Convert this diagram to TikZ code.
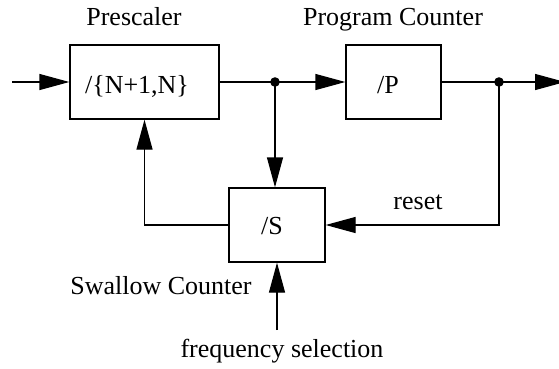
\documentclass[tikz,border=0pt]{standalone}
\usepackage{fontspec}
\setmainfont{Liberation Serif}
\usetikzlibrary{arrows.meta}
\begin{document}
\begin{tikzpicture}[x=1pt,y=-1pt,
  font=\fontsize{26}{30}\selectfont,
  wire/.style={line width=1.3pt},
  arr/.style={wire,-{Triangle[length=30pt,width=16pt]}},
  blockbox/.style={draw,line width=1.3pt,inner sep=0pt},
  lbl/.style={anchor=base,inner sep=0pt}]
\useasboundingbox (0,0) rectangle (559,368);

% divider blocks
\node[blockbox,minimum width=149pt,minimum height=74pt] (pre) at (144.5,82) {};
\node[blockbox,minimum width=95pt,minimum height=74pt] (pc) at (393.5,82) {};
\node[blockbox,minimum width=96pt,minimum height=74pt] (sw) at (277,225) {};

% block contents
\node[lbl] (pretxt) at (137,93) {/\{N+1,N\}};
\node[lbl] (pctxt) at (388,93) {/P};
\node[lbl] (swtxt) at (272,234) {/S};

% captions
\node[lbl] (precap) at (134,25) {Prescaler};
\node[lbl] (pccap) at (393,25) {Program Counter};
\node[lbl] (swcap) at (161,294) {Swallow Counter};
\node[lbl] (fscap) at (282,357) {frequency selection};
\node[lbl] (rstcap) at (418,209) {reset};

% wire ends and branch points
\coordinate (in) at (12,82);
\coordinate (out) at (565,82);
\coordinate (j1) at (275,82);
\coordinate (j2) at (499,82);
\coordinate (fs) at (277,330);

% signal path
\draw[arr] (in) -- (pre.west);
\draw[wire] (pre.east) -- (j1);
\draw[arr] (j1) -- (pc.west);
\draw[wire] (pc.east) -- (j2);
\draw[arr] (j2) -- (out);

% control paths
\draw[arr] (j1) -- (j1 |- sw.north);
\draw[arr] (sw.west) -| (pre.south);
\draw[arr] (j2) |- (sw.east);
\draw[arr] (fs) -- (sw.south);

% junction dots
\fill (j1) circle (4.8pt);
\fill (j2) circle (4.8pt);
\end{tikzpicture}
\end{document}
